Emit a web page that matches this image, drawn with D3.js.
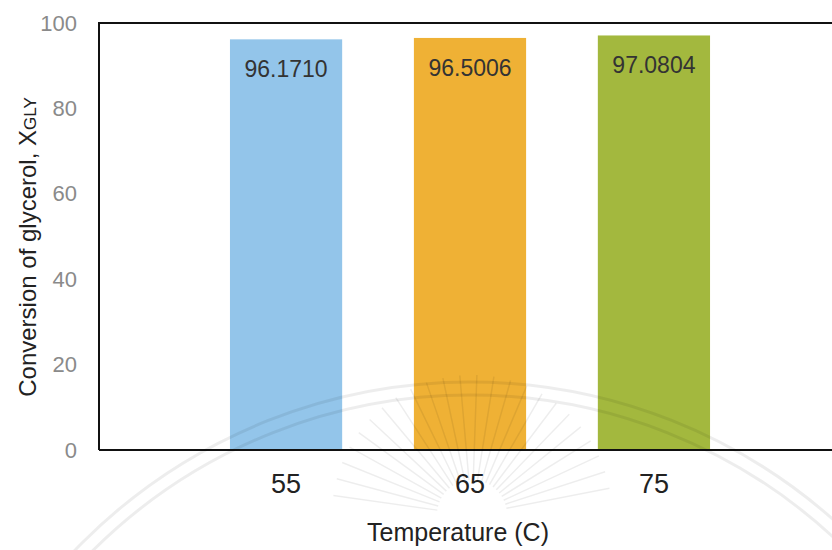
<!DOCTYPE html>
<html>
<head>
<meta charset="utf-8">
<script src="https://cdn.jsdelivr.net/npm/d3@7"></script>
<style>
  html, body { margin: 0; padding: 0; background: #fff; }
  svg { display: block; }
  text { font-family: "Liberation Sans", Arial, Helvetica, sans-serif; }
</style>
</head>
<body>
<svg id="chart" width="832" height="550"></svg>
<script>
// Glycerol conversion at each reaction temperature
const categories = ["55", "65", "75"];
const values = [96.1710, 96.5006, 97.0804];
const valueLabels = ["96.1710", "96.5006", "97.0804"];
const barColors = ["#93c5ea", "#efb135", "#a3b83e"];
const yTicks = [0, 20, 40, 60, 80, 100];

const width = 832, height = 550;
const plot = { left: 99, right: 841, top: 23, bottom: 450 };

const svg = d3.select("#chart");

const x = d3.scaleBand()
  .domain(categories)
  .range([plot.left, plot.right])
  .paddingInner(0.39)
  .paddingOuter(0.712);

const y = d3.scaleLinear()
  .domain([0, 100])
  .range([plot.bottom, plot.top]);

// Bars
svg.append("g")
  .selectAll("rect")
  .data(values)
  .join("rect")
  .attr("x", (d, i) => x(categories[i]))
  .attr("y", d => y(d))
  .attr("width", x.bandwidth())
  .attr("height", d => y(0) - y(d))
  .attr("fill", (d, i) => barColors[i]);

// Value labels inside the top of each bar
svg.append("g")
  .selectAll("text")
  .data(values)
  .join("text")
  .attr("x", (d, i) => x(categories[i]) + x.bandwidth() / 2)
  .attr("y", d => y(d) + 38)
  .attr("text-anchor", "middle")
  .attr("font-size", 23)
  .attr("fill", "#333")
  .text((d, i) => valueLabels[i]);

// Plot frame (top and left edges) and baseline
svg.append("path")
  .attr("d", `M${plot.right},${plot.top}H${plot.left}V${plot.bottom}`)
  .attr("fill", "none")
  .attr("stroke", "#111")
  .attr("stroke-width", 2);
svg.append("line")
  .attr("x1", plot.left).attr("x2", plot.right)
  .attr("y1", plot.bottom).attr("y2", plot.bottom)
  .attr("stroke", "#111")
  .attr("stroke-width", 2);

// Y axis ticks
const yAxis = svg.append("g")
  .attr("transform", `translate(${plot.left},0)`)
  .call(d3.axisLeft(y).tickValues(yTicks).tickSize(0).tickPadding(22));
yAxis.select(".domain").remove();
yAxis.selectAll("text")
  .attr("font-size", 22)
  .attr("font-family", "'Liberation Sans', Arial, sans-serif")
  .attr("fill", "#8a8a8a");

// X axis ticks
const xAxis = svg.append("g")
  .attr("transform", `translate(0,${plot.bottom})`)
  .call(d3.axisBottom(x).tickSize(0).tickPadding(24));
xAxis.select(".domain").remove();
xAxis.selectAll("text")
  .attr("font-size", 27)
  .attr("font-family", "'Liberation Sans', Arial, sans-serif")
  .attr("fill", "#222");

// Axis titles
svg.append("text")
  .attr("x", 458)
  .attr("y", 541)
  .attr("text-anchor", "middle")
  .attr("font-size", 25)
  .attr("fill", "#222")
  .text("Temperature (C)");

const yTitle = svg.append("text")
  .attr("transform", "translate(36,247) rotate(-90)")
  .attr("text-anchor", "middle")
  .attr("font-size", 24)
  .attr("fill", "#222");
yTitle.append("tspan").text("Conversion of glycerol, X");
yTitle.append("tspan").attr("font-size", 17).text("GLY");

// Faint seal in the background of the page
const seal = svg.append("g")
  .attr("fill", "none")
  .attr("stroke", "#000")
  .attr("stroke-opacity", 0.07);
[548, 535].forEach(r => {
  seal.append("circle").attr("cx", 470).attr("cy", 930).attr("r", r).attr("stroke-width", 3);
});
const rayAngles = d3.range(-172, -7, 7);
seal.selectAll("line.ray")
  .data(rayAngles)
  .join("line")
  .attr("class", "ray")
  .attr("x1", a => 472 + 35 * Math.cos(a * Math.PI / 180))
  .attr("y1", a => 515 + 35 * Math.sin(a * Math.PI / 180))
  .attr("x2", a => 472 + 140 * Math.cos(a * Math.PI / 180))
  .attr("y2", a => 515 + 140 * Math.sin(a * Math.PI / 180))
  .attr("stroke-width", 1.5);
</script>
</body>
</html>
